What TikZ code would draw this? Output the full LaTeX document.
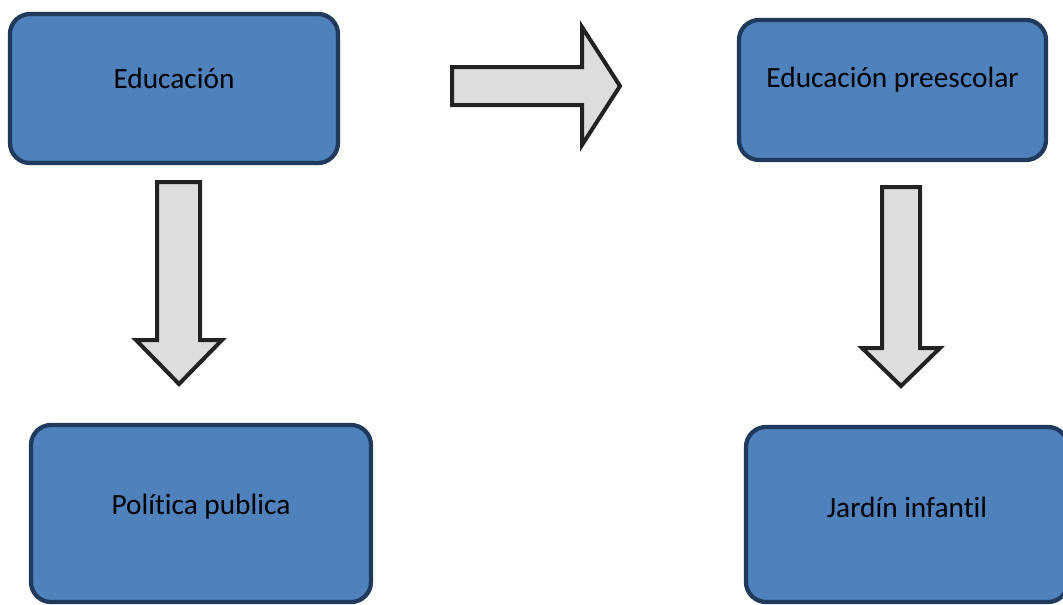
\documentclass[tikz,border=0pt]{standalone}
\usepackage{fontspec}
\setmainfont{Carlito}[Ligatures=NoCommon]
\usetikzlibrary{positioning}
\definecolor{boxblue}{HTML}{4F81BD}
\definecolor{boxedge}{HTML}{1F3A5C}
\definecolor{arrowgray}{HTML}{DDDDDD}
\definecolor{arrowedge}{HTML}{222222}
\tikzset{
	topicbox/.style={draw=boxedge, fill=boxblue, line width=3.2pt, rounded corners=15pt, inner sep=0pt},
	topictext/.style={font=\fontsize{22}{27}\selectfont, text=black, inner sep=0pt},
	blockarrow/.style={draw=arrowedge, fill=arrowgray, line width=3pt, line join=miter}
}

\begin{document}
\begin{tikzpicture}[x=0.75pt, y=-0.75pt]
			%%%%% START %%%%%
			
			\useasboundingbox (0, 0) rectangle (1063, 604);
			\clip (0, 0) rectangle (1063, 604);
			
			% boxes
			\node[topicbox, minimum width=246pt, minimum height=111.75pt] (educ) at (174, 88.5) {};
			\node[topicbox, minimum width=230.25pt, minimum height=105pt] (presc) at (892.5, 90) {};
			\node[topicbox, minimum width=255pt, minimum height=132.75pt] (polit) at (201, 513.5) {};
			\node[topicbox, minimum width=241.5pt, minimum height=131.25pt] (jardin) at (907, 514.5) {};
			
			\node[topictext] (educ-t) at ([yshift=7.5pt]educ.center) {Educación};
			\node[topictext] (presc-t) at ([yshift=7.5pt]presc.center) {Educación preescolar};
			\node[topictext] (polit-t) at ([yshift=5pt]polit.center) {Política publica};
			\node[topictext] (jardin-t) at ([yshift=5.5pt]jardin.center) {Jardín infantil};
			
			% right arrow
			\draw[blockarrow] (452, 67) -- (582, 67) -- (582, 27) -- (620, 86) -- (582, 145) -- (582, 105) -- (452, 105) -- cycle;
			
			% left down arrow
			\draw[blockarrow] (157, 182) -- (200, 182) -- (200, 340) -- (222, 340) -- (179, 384) -- (136, 340) -- (157, 340) -- cycle;
			
			% right down arrow
			\draw[blockarrow] (882, 187) -- (920, 187) -- (920, 348) -- (940, 348) -- (901, 386) -- (862, 348) -- (882, 348) -- cycle;
			
			%%%%% END %%%%%
\end{tikzpicture}
\end{document}
